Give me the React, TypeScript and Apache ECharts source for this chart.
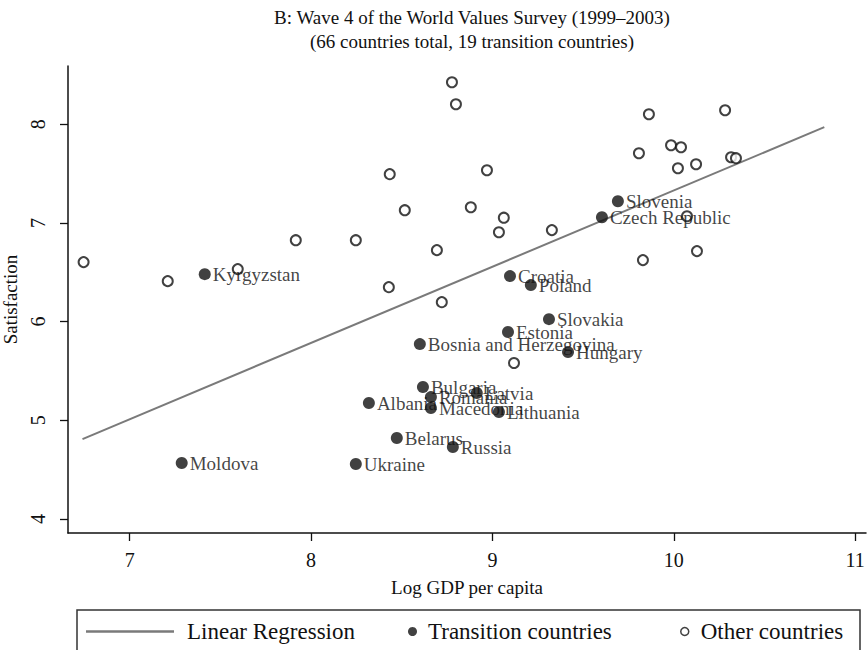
import React, { useEffect, useRef } from "react";
import * as echarts from "echarts";

const titleLines = [
  "B: Wave 4 of the World Values Survey (1999–2003)",
  "(66 countries total, 19 transition countries)",
];

const transitionCountries = [
  "Kyrgyzstan", "Moldova", "Ukraine", "Belarus", "Russia", "Albania", "Macedonia",
  "Romania", "Bulgaria", "Latvia", "Lithuania", "Bosnia and Herzegovina", "Estonia",
  "Hungary", "Slovakia", "Croatia", "Poland", "Czech Republic", "Slovenia",
];
const transitionGdp = [
  7.414, 7.287, 8.247, 8.473, 8.782, 8.319, 8.661,
  8.661, 8.617, 8.914, 9.036, 8.6, 9.086,
  9.417, 9.312, 9.097, 9.212, 9.604, 9.692,
];
const transitionSat = [
  6.481, 4.567, 4.557, 4.82, 4.729, 5.175, 5.124,
  5.235, 5.337, 5.276, 5.084, 5.772, 5.894,
  5.691, 6.025, 6.461, 6.37, 7.058, 7.22,
];

const otherGdp = [
  8.777, 8.799, 10.283, 9.863, 9.985, 10.04, 9.808, 10.316, 10.343, 10.123,
  10.023, 8.97, 8.434, 8.881, 8.517, 10.073, 9.063, 9.328, 9.036, 7.916,
  8.247, 8.694, 10.128, 9.83, 6.746, 7.596, 7.21, 8.429, 8.721, 9.119,
];
const otherSat = [
  8.425, 8.203, 8.142, 8.101, 7.787, 7.767, 7.706, 7.666, 7.656, 7.595,
  7.554, 7.534, 7.494, 7.159, 7.129, 7.068, 7.053, 6.927, 6.906, 6.825,
  6.825, 6.724, 6.714, 6.623, 6.603, 6.532, 6.41, 6.349, 6.197, 5.58,
];

const regressionGdp = [6.74, 10.83];
const regressionSat = [4.81, 7.97];

const xTicks = [7, 8, 9, 10, 11];
const yTicks = [4, 5, 6, 7, 8];

const FONT = "'Liberation Serif', 'DejaVu Serif', serif";
const INK = "#111111";

export default function App() {
  const ref = useRef<HTMLDivElement>(null);
  useEffect(() => {
    if (!ref.current) return;
    document.body.style.margin = "0";
    const chart = echarts.init(ref.current, undefined, { renderer: "svg" });
    const option: any = {
      animation: false,
      backgroundColor: "#ffffff",
      textStyle: { fontFamily: FONT, color: INK },
      title: {
        text: titleLines.join("\n"),
        left: 467,
        textAlign: "center",
        top: 0,
        textStyle: { fontFamily: FONT, fontSize: 19, fontWeight: "normal", color: INK, lineHeight: 24 },
      },
      grid: { left: 68, right: 1, top: 66, bottom: 117, containLabel: false, outerBoundsMode: "none" },
      xAxis: {
        type: "value",
        min: 6.66,
        max: 11.06,
        name: "Log GDP per capita",
        nameLocation: "middle",
        nameGap: 45,
        nameTextStyle: { fontFamily: FONT, fontSize: 19, color: INK },
        axisLine: { show: true, lineStyle: { color: INK, width: 1.5 } },
        axisTick: { show: true, length: 8, customValues: xTicks, lineStyle: { color: INK, width: 1.3 } },
        axisLabel: { customValues: xTicks, margin: 17, fontSize: 20, fontFamily: FONT, color: INK },
        splitLine: { show: false },
      },
      yAxis: {
        type: "value",
        min: 3.858,
        max: 8.59,
        name: "Satisfaction",
        nameLocation: "middle",
        nameGap: 46,
        nameTextStyle: { fontFamily: FONT, fontSize: 19, color: INK },
        axisLine: { show: true, lineStyle: { color: INK, width: 1.5 } },
        axisTick: { show: true, length: 8, customValues: yTicks, lineStyle: { color: INK, width: 1.3 } },
        axisLabel: { customValues: yTicks, rotate: 90, margin: 20, fontSize: 20, fontFamily: FONT, color: INK },
        splitLine: { show: false },
      },
      legend: [
        {
          data: [{ name: "Linear Regression", icon: "rect", itemStyle: { color: "#7a7a7a" } }],
          left: 86,
          top: 620,
          itemWidth: 88,
          itemHeight: 2.5,
          padding: 0,
          textStyle: { fontFamily: FONT, fontSize: 23, color: INK, padding: [0, 0, 0, 8] },
        },
        {
          data: [{ name: "Transition countries", icon: "circle" }],
          left: 408,
          top: 620,
          itemWidth: 9,
          itemHeight: 10,
          padding: 0,
          textStyle: { fontFamily: FONT, fontSize: 23, color: INK, padding: [0, 0, 0, 6] },
        },
        {
          data: [{ name: "Other countries", icon: "circle", itemStyle: { color: "#ffffff", borderColor: INK, borderWidth: 1.5 } }],
          left: 680,
          top: 620,
          itemWidth: 8,
          itemHeight: 8,
          padding: 0,
          textStyle: { fontFamily: FONT, fontSize: 23, color: INK, padding: [0, 0, 0, 7] },
        },
      ],
      graphic: [
        {
          type: "rect",
          shape: { x: 77, y: 610, width: 783, height: 60 },
          style: { fill: "none", stroke: "#333", lineWidth: 1.5 },
          silent: true,
        },
      ],
      series: [
        {
          name: "Linear Regression",
          type: "line",
          data: regressionGdp.map((g, i) => [g, regressionSat[i]]),
          symbol: "none",
          lineStyle: { color: "#7a7a7a", width: 2 },
          z: 1,
        },
        {
          name: "Other countries",
          type: "scatter",
          data: otherGdp.map((g, i) => [g, otherSat[i]]),
          symbol: "circle",
          symbolSize: 10,
          itemStyle: { color: "#ffffff", borderColor: INK, borderWidth: 2 },
          z: 2,
        },
        {
          name: "Transition countries",
          type: "scatter",
          data: transitionGdp.map((g, i) => ({ name: transitionCountries[i], value: [g, transitionSat[i]] })),
          symbol: "circle",
          symbolSize: 12,
          itemStyle: { color: INK },
          label: {
            show: true,
            position: "right",
            distance: 2,
            formatter: "{b}",
            fontFamily: FONT,
            fontSize: 19,
            color: INK,
          },
          z: 3,
        },
      ],
    };
    chart.setOption(option);
    return () => chart.dispose();
  }, []);
  return <div ref={ref} style={{ width: 867, height: 650 }} />;
}
